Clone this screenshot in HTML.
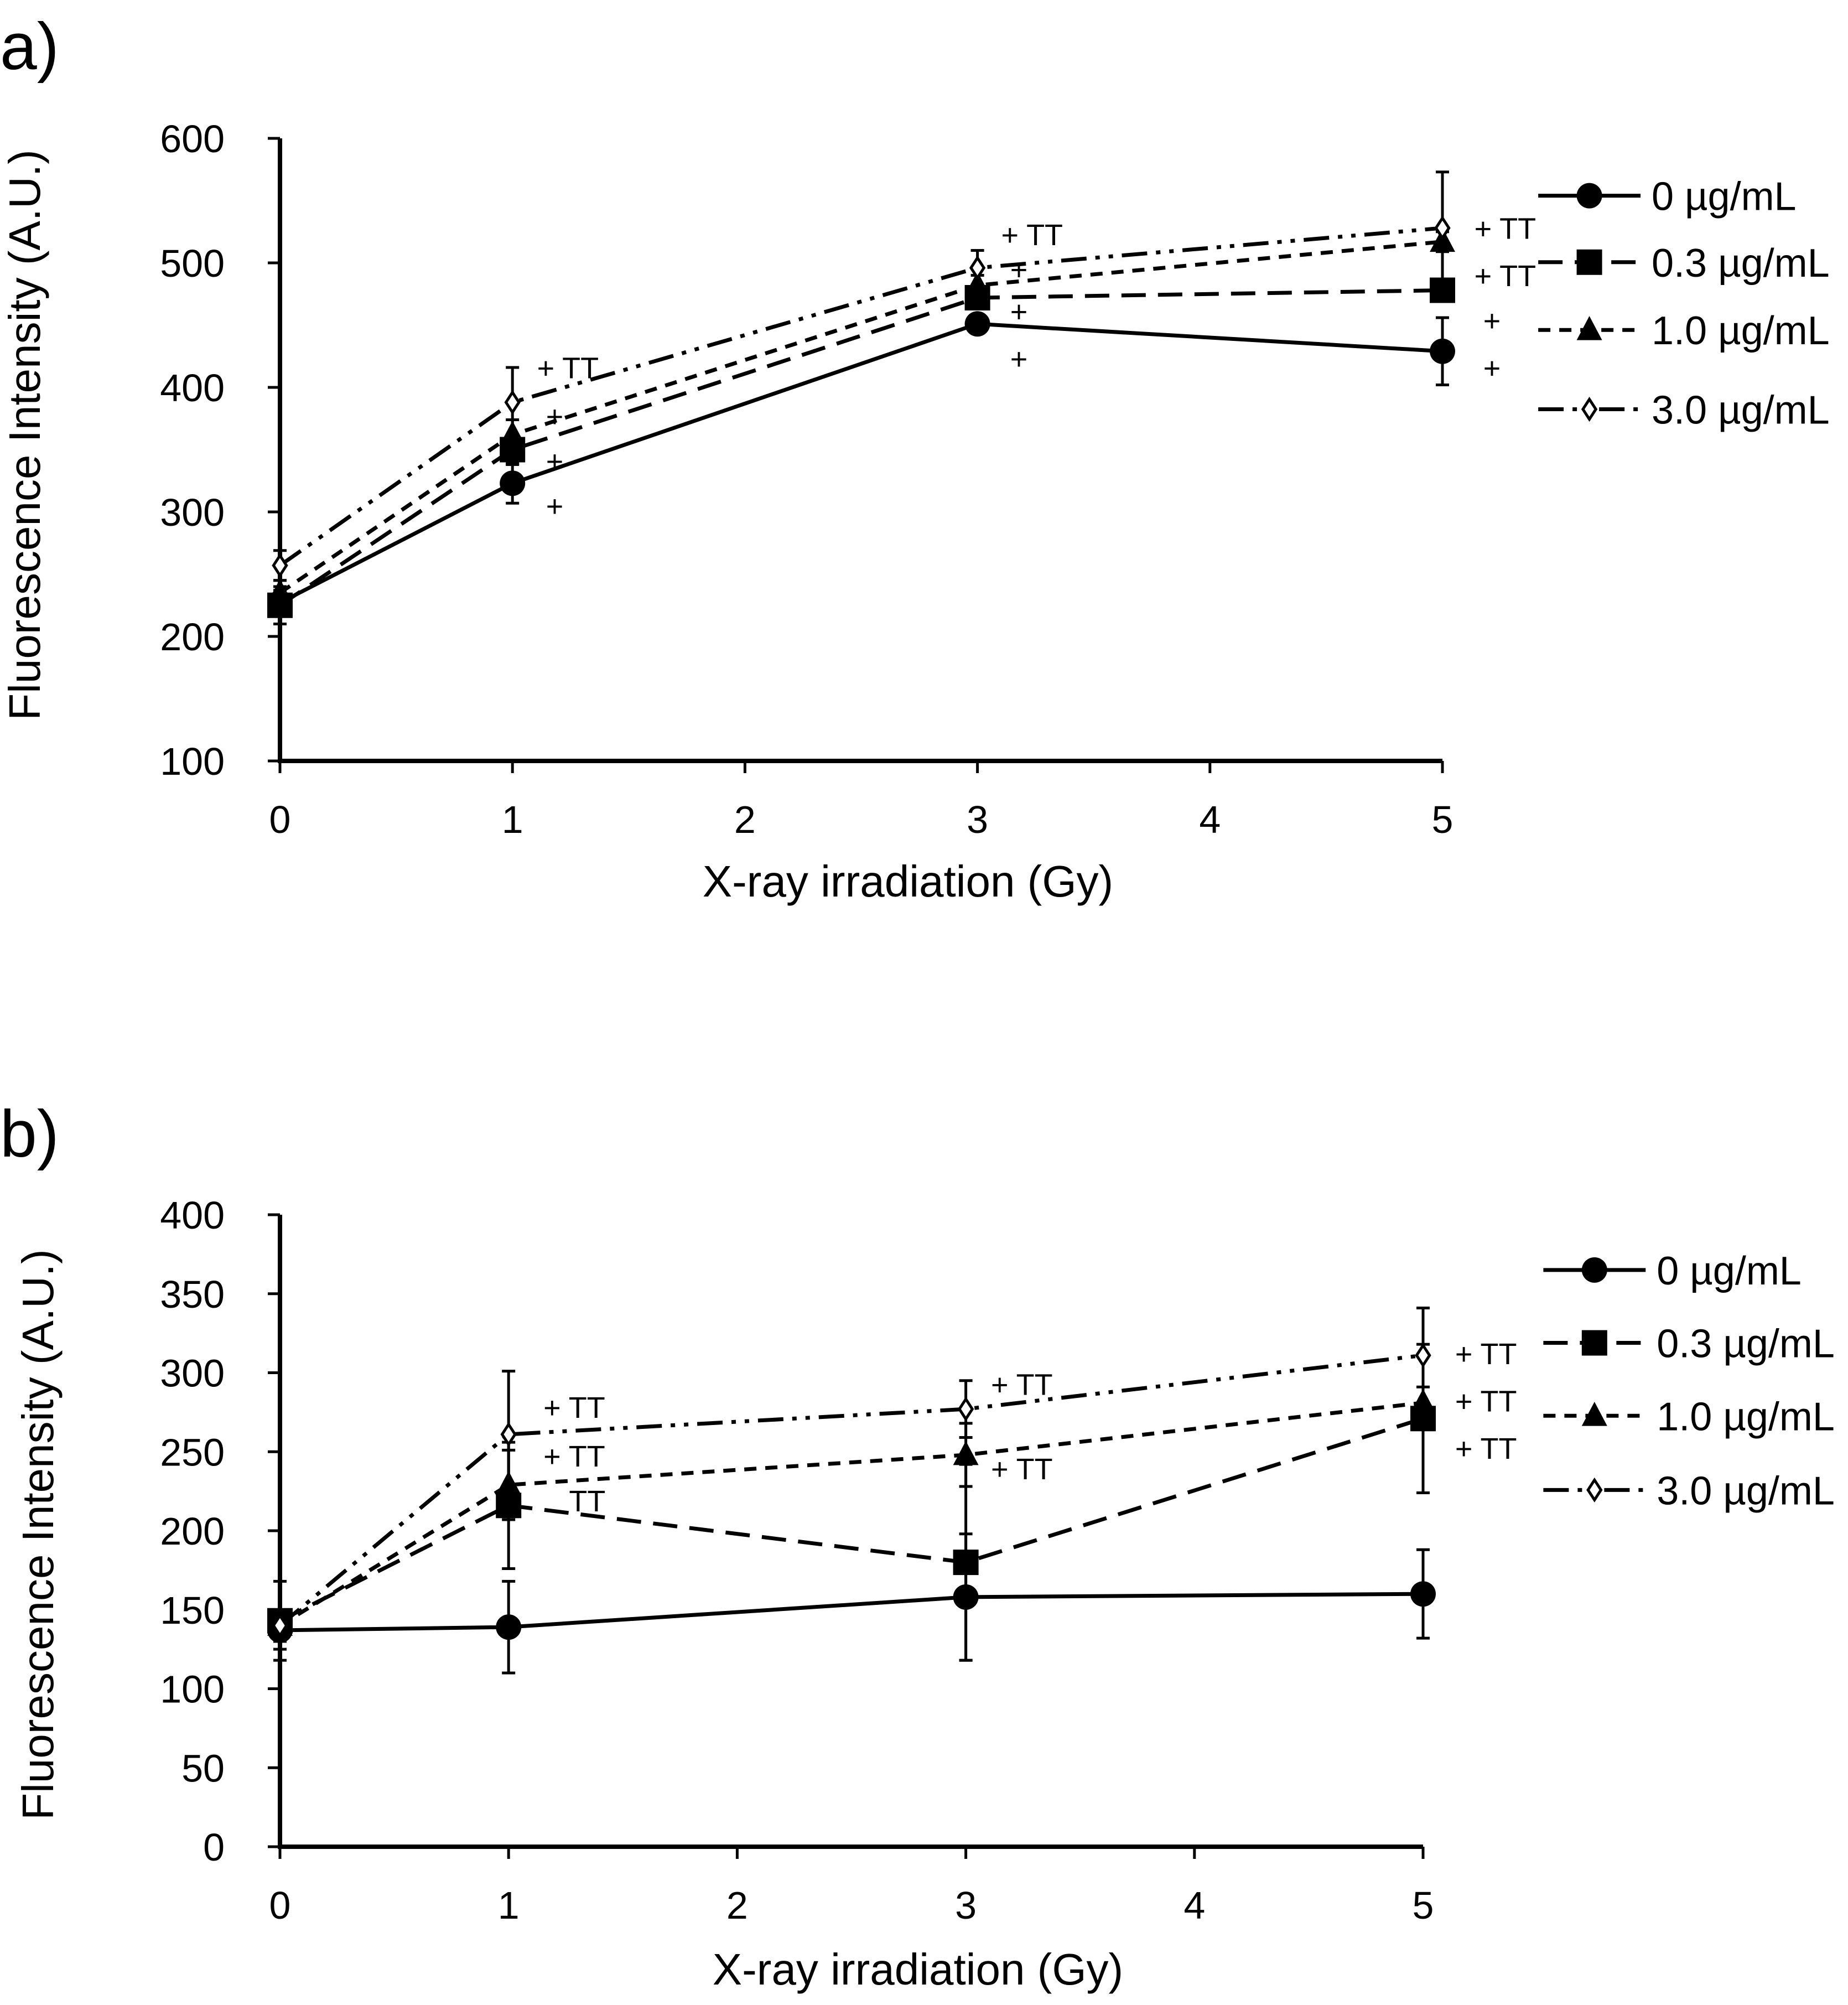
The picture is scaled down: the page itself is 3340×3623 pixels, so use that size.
<!DOCTYPE html>
<html><head><meta charset="utf-8"><style>
html,body{margin:0;padding:0;background:#fff}
svg{display:block}
text{font-family:"Liberation Sans",Arial,sans-serif;fill:#000}
</style></head><body>
<svg id="fig" width="3340" height="3623" viewBox="0 0 3340 3623" xmlns="http://www.w3.org/2000/svg">
<text x="0" y="125" font-size="120">a)</text>
<text x="0" y="2090" font-size="120">b)</text>
<g id="pa"></g>
<g id="pb"></g>
</svg>
<script>
const xCats=[0,1,3,5];
const xTicks=[0,1,2,3,4,5];
const seriesNames=["0 µg/mL","0.3 µg/mL","1.0 µg/mL","3.0 µg/mL"];
const aTicks=[100,200,300,400,500,600];
const a0=[227,323,451,429];
const a03=[225,350,472,478];
const a10=[235,362,482,517];
const a30=[257,388,496,528];
const aErr0=[10,16,6,27];
const aErr03=[15,12,8,8];
const aErr10=[10,12,8,8];
const aErr30=[12,28,14,45];
const bTicks=[0,50,100,150,200,250,300,350,400];
const b0=[137,139,158,160];
const b03=[143,216,180,271];
const b10=[140,229,248,281];
const b30=[140,261,277,311];
const bErr0=[12,29,40,28];
const bErr03=[25,40,62,47];
const bErr10=[10,22,20,10];
const bErr30=[10,40,18,30];
const aNotes=[["+ TT",1,420,287],["+",1,427,325],["+",1,427,360],["+",1,427,395],["+ TT",3,783,183],["+",3,790,210],["+",3,790,243],["+",3,790,280],["+ TT",5,1153,178],["+ TT",5,1153,215],["+",5,1160,250],["+",5,1160,287]];
const bNotes=[["+ TT",1,425,1100],["+ TT",1,425,1138],["TT",1,445,1173],["+ TT",3,775,1082],["+ TT",3,775,1148],["+ TT",5,1138,1058],["+ TT",5,1138,1095],["+ TT",5,1138,1132]];
const NS="http://www.w3.org/2000/svg";
const S=2.311;
function mk(p,tag,at){const e=document.createElementNS(NS,tag);for(const k in at)e.setAttribute(k,at[k]);p.appendChild(e);return e;}
const dashes=["none","44 22","22 16","46 16 8 16 8 16"];
function marker(g,k,x,y,r){
  let m;
  if(k===0)m=mk(g,"circle",{cx:x,cy:y,r:r,fill:"#000"});
  else if(k===1)m=mk(g,"rect",{x:x-r,y:y-r,width:2*r,height:2*r,fill:"#000"});
  else if(k===2)m=mk(g,"polygon",{points:`${x},${y-r*1.1} ${x+r},${y+r*0.8} ${x-r},${y+r*0.8}`,fill:"#000"});
  else m=mk(g,"polygon",{points:`${x},${y-r} ${x+r*0.65},${y} ${x},${y+r} ${x-r*0.65},${y}`,fill:"#fff",stroke:"#000","stroke-width":5});
  return m;
}
function chart(g,cfg){
  const X=v=>cfg.x0+(cfg.x5-cfg.x0)*v/5;
  const Y=v=>cfg.yb+(cfg.yt-cfg.yb)*(v-cfg.ymin)/(cfg.ymax-cfg.ymin);
  const ax=mk(g,"path",{d:`M${X(0)},${Y(cfg.ymax)}V${Y(cfg.ymin)}H${X(5)}`,fill:"none",stroke:"#000","stroke-width":8});
  
  
  cfg.yt_.forEach(t=>{
    mk(g,"line",{x1:X(0)-22,x2:X(0),y1:Y(t),y2:Y(t),stroke:"#000","stroke-width":5});
    const tx=mk(g,"text",{x:X(0)-100,y:Y(t)+25,"font-size":70,"text-anchor":"end"});tx.textContent=t;
    
    
  });
  xTicks.forEach(t=>{
    mk(g,"line",{x1:X(t),x2:X(t),y1:Y(cfg.ymin),y2:Y(cfg.ymin)+22,stroke:"#000","stroke-width":5});
    const tx=mk(g,"text",{x:X(t),y:Y(cfg.ymin)+130,"font-size":70,"text-anchor":"middle"});tx.textContent=t;
    
    
  });
  const xt=mk(g,"text",{x:cfg.xtx,y:cfg.xty,"font-size":80,"text-anchor":"middle"});xt.textContent="X-ray irradiation (Gy)";
  
  
  const yt=mk(g,"text",{x:0,y:0,"font-size":80,"text-anchor":"middle",transform:`translate(${cfg.ytx},${cfg.yty}) rotate(-90)`});yt.textContent="Fluorescence Intensity (A.U.)";
  
  
  cfg.series.forEach((s,k)=>{
    const e=cfg.errs[k];
    s.forEach((v,i)=>{
      const x=X(xCats[i]);
      const eb=mk(g,"path",{d:`M${x},${Y(v-e[i])}V${Y(v+e[i])}M${x-12},${Y(v-e[i])}h24M${x-12},${Y(v+e[i])}h24`,stroke:"#000","stroke-width":5,fill:"none"});
      
      
    });
  });
  cfg.series.forEach((s,k)=>{
    const d=s.map((v,i)=>(i?"L":"M")+X(xCats[i])+","+Y(v)).join("");
    const ln=mk(g,"path",{d:d,fill:"none",stroke:"#000","stroke-width":7,"stroke-dasharray":dashes[k]});
    
    
  });
  cfg.series.forEach((s,k)=>{
    s.forEach((v,i)=>{
      const m=marker(g,k,X(xCats[i]),Y(v),k===3?18:23);
      
      
    });
  });
  cfg.notes.forEach(n=>{
    const t=mk(g,"text",{x:n[2]*S,y:n[3]*S+20,"font-size":54});t.textContent=n[0];
    
    
  });
  cfg.leg.forEach((ly,k)=>{
    const y=ly*S;
    const lg=mk(g,"g",{});
    
    
    mk(lg,"line",{x1:cfg.lx1,x2:cfg.lx2,y1:y,y2:y,stroke:"#000","stroke-width":7,"stroke-dasharray":dashes[k]});
    marker(lg,k,(cfg.lx1+cfg.lx2)/2,y,k===3?18:23);
    const t=mk(lg,"text",{x:cfg.lx2+20,y:y+26,"font-size":72});t.textContent=seriesNames[k];
  });
}
chart(document.getElementById("pa"),{x0:506,x5:2607,yt:250,yb:1375,ymin:100,ymax:600,yt_:aTicks,
  series:[a0,a03,a10,a30],errs:[aErr0,aErr03,aErr10,aErr30],notes:aNotes,
  leg:[153,205,258,320],lx1:1203*S,lx2:1283*S,xtx:1641,xty:1620,ytx:72,yty:786});
chart(document.getElementById("pb"),{x0:506,x5:2572,yt:2195,yb:3337,ymin:0,ymax:400,yt_:bTicks,
  series:[b0,b03,b10,b30],errs:[bErr0,bErr03,bErr10,bErr30],notes:bNotes,
  leg:[993,1050,1107,1165],lx1:1207*S,lx2:1287*S,xtx:1659,xty:3586,ytx:96,yty:2773});
</script>
</body></html>
